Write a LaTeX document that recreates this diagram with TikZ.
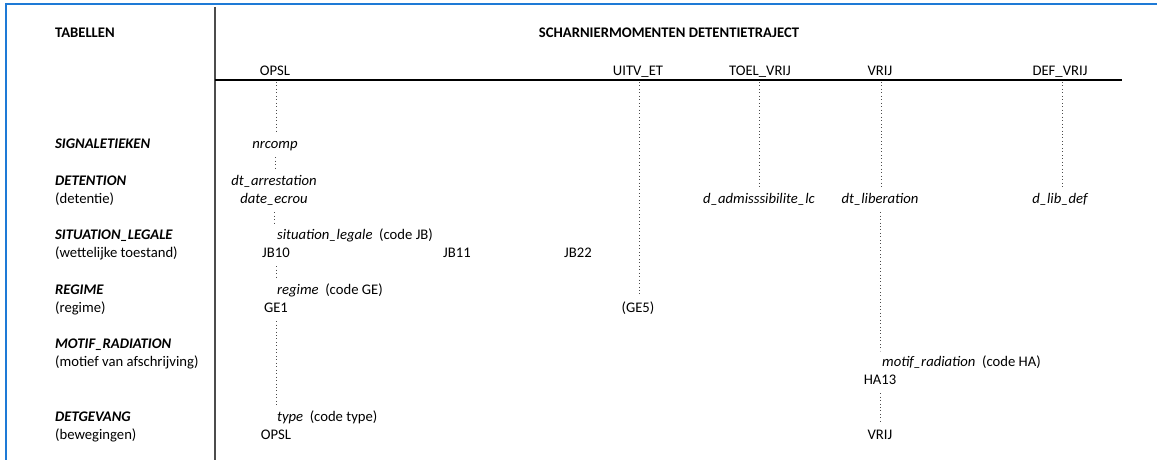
\documentclass[tikz,border=0pt]{standalone}
\usepackage{fontspec}
\setmainfont{Carlito}
\usepackage{tikz}
\definecolor{frameblue}{RGB}{30,122,214}

\begin{document}
\fontsize{11}{13}\selectfont
\begin{tikzpicture}[x=0.75pt,y=-0.75pt,
    every node/.style={text height=1.55ex,text depth=0.45ex},
    tbl node/.style={anchor=west,font=\bfseries\itshape},
    nl node/.style={anchor=west},
    head node/.style={font=\bfseries},
    val node/.style={font=\itshape},
    code node/.style={anchor=west},
    tick/.style={dotted,gray!60!black,line width=0.6pt}]

\useasboundingbox (0,0) rectangle (1157,460);

\draw[frameblue,line width=1.2pt] (6,460) -- (6,4) -- (1157,4);
\draw[gray!60!black,line width=0.8pt] (215,7) -- (215,460);
\draw[line width=1.1pt] (215,80) -- (1122,80);

\node[head node,anchor=west] (tab) at (50,34) {TABELLEN};
\node[head node] (title) at (669,34) {SCHARNIERMOMENTEN DETENTIETRAJECT};

\node (opsl) at (275,72) {OPSL};
\node (uitv) at (638,72) {UITV\_ET};
\node (toel) at (760,72) {TOEL\_VRIJ};
\node (vrij) at (880,72) {VRIJ};
\node (defvrij) at (1060,72) {DEF\_VRIJ};

\coordinate (opsl-t) at (276,82);
\coordinate (uitv-t) at (639,82);
\coordinate (toel-t) at (759,82);
\coordinate (vrij-t) at (881,82);
\coordinate (def-t) at (1062,82);

\node[tbl node] (sign) at (50,145) {SIGNALETIEKEN};
\node[tbl node] (det) at (50,182) {DETENTION};
\node[nl node] (det-nl) at (50,200) {(detentie)};
\node[tbl node] (sit) at (50,236) {SITUATION\_LEGALE};
\node[nl node] (sit-nl) at (50,254) {(wettelijke toestand)};
\node[tbl node] (reg) at (50,291) {REGIME};
\node[nl node] (reg-nl) at (50,309) {(regime)};
\node[tbl node] (mot) at (50,345) {MOTIF\_RADIATION};
\node[nl node] (mot-nl) at (50,363) {(motief van afschrijving)};
\node[tbl node] (gev) at (50,418) {DETGEVANG};
\node[nl node] (gev-nl) at (50,436) {(bewegingen)};

\node[val node] (nrcomp) at (275,145) {nrcomp};
\node[val node] (dtarr) at (274,182) {dt\_arrestation};
\node[val node] (datee) at (274,200) {date\_ecrou};
\node[code node] (sitleg) at (272,236) {{\itshape situation\_legale}\hspace{0.45em}(code JB)};
\node (jb10) at (276,254) {JB10};
\node (jb11) at (457,254) {JB11};
\node (jb22) at (578,254) {JB22};
\node[code node] (regime) at (272,291) {{\itshape regime}\hspace{0.45em}(code GE)};
\node (ge1) at (276,309) {GE1};
\node (ge5) at (638,309) {(GE5)};
\node[val node] (dadm) at (759,200) {d\_admisssibilite\_lc};
\node[val node] (dtlib) at (880,200) {dt\_liberation};
\node[val node] (dlib) at (1060,200) {d\_lib\_def};
\node[code node] (motif) at (877,363) {{\itshape motif\_radiation}\hspace{0.45em}(code HA)};
\node (ha13) at (880,381) {HA13};
\node (vrijb) at (880,436) {VRIJ};
\node[code node] (type) at (272,418) {{\itshape type}\hspace{0.45em}(code type)};
\node (opslb) at (276,436) {OPSL};

\path[tick]
(opsl-t) edge (opsl-t |- nrcomp.north)
(nrcomp) edge (nrcomp.south |- dtarr.north)
(datee) edge (sitleg.north -| datee)
(jb10) edge (regime.north -| jb10)
(ge1) edge (type.north -| ge1)
(uitv-t) edge (uitv-t |- ge5.north)
(toel-t) edge (toel-t |- dadm.north)
(vrij-t) edge (vrij-t |- dtlib.north)
(dtlib) edge (motif.north -| dtlib)
(ha13) edge (vrijb)
(def-t) edge (def-t |- dlib.north);

\end{tikzpicture}
\end{document}
